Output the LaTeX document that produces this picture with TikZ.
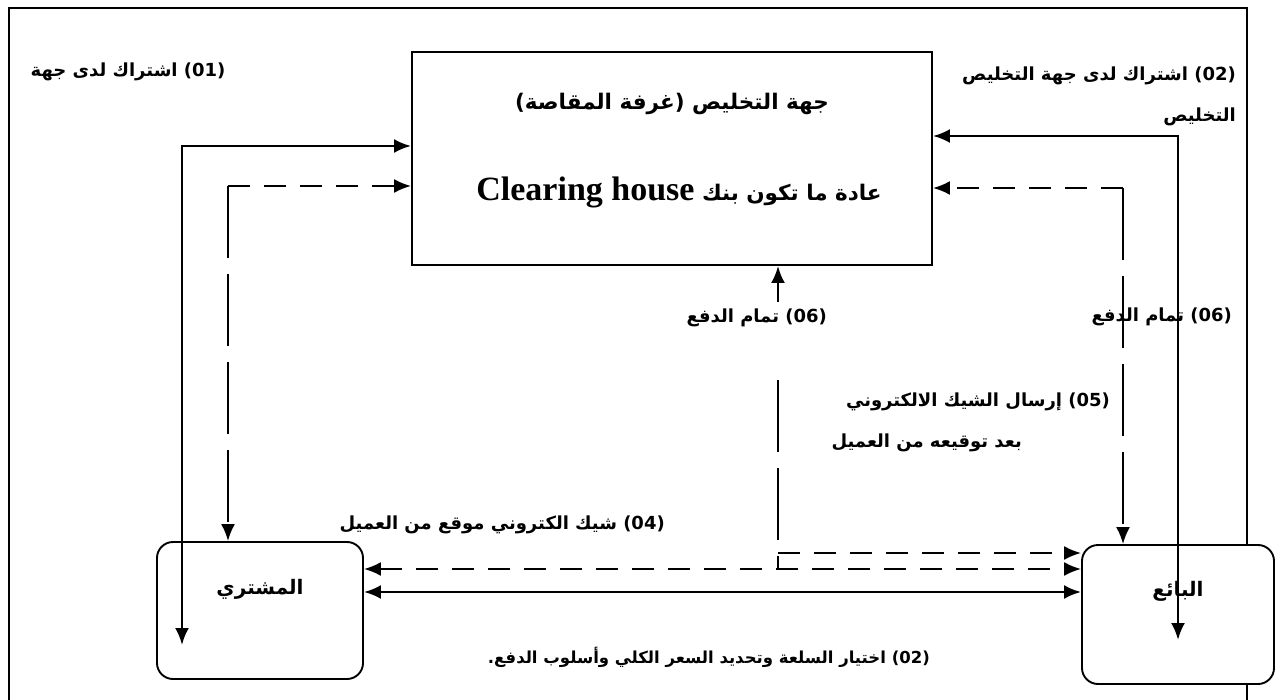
\documentclass[tikz,border=0pt]{standalone}
\usepackage{fontspec}
\setmainfont{Liberation Serif}
\newfontfamily\arab[Script=Arabic]{DejaVu Sans}
\TeXXeTstate=1
\usetikzlibrary{arrows.meta,calc}
\begin{document}
\begin{tikzpicture}[x=1pt,y=-1pt,
  >={Latex[length=17pt,width=14pt]},
  frameline/.style={line width=2.4pt},
  box/.style={draw,line width=1.9pt,fill=white,inner sep=0pt},
  rbox/.style={box,rounded corners=16pt},
  conn/.style={line width=2.6pt},
  sdash/.style={line width=2.1pt,dash pattern=on 22pt off 14pt},
  ldash/.style={line width=2.1pt,dash pattern=on 72pt off 16pt},
  lab/.style={inner sep=0pt,font=\arab\bfseries\fontsize{18}{21}\selectfont},
  actor/.style={inner sep=0pt,font=\arab\bfseries\fontsize{20}{24}\selectfont},
  title/.style={inner sep=0pt,font=\arab\bfseries\fontsize{21.5}{26}\selectfont}]
\useasboundingbox (0,0) rectangle (1276,700);
% outer frame
\draw[frameline] (9,700) -- (9,8) -- (1247,8) -- (1247,700);
% boxes
\node[box,minimum width=520pt,minimum height=213pt] (house) at (672,158.5) {};
\node[title] (housetitle) at (672,104) {\beginR جهة التخليص (غرفة المقاصة)\endR};
\node[title] (housesub) at (679,192) {\beginR عادة ما تكون بنك \beginL{\rmfamily\bfseries\fontsize{34}{38}\selectfont Clearing house}\endL\endR};
\node[rbox,minimum width=206pt,minimum height=137pt] (buyer) at (260,610.5) {};
\node[actor] (buyertext) at (260,589) {\beginR المشتري\endR};
\node[rbox,minimum width=192pt,minimum height=139pt] (seller) at (1178,614.5) {};
\node[actor] (sellertext) at (1178,591) {\beginR البائع\endR};
% labels
\node[lab] (l01) at (128,72) {\beginR\beginL(01)\endL{} اشتراك لدى جهة\endR};
\node[lab,align=right,anchor=base east] (l02) at (1236,122) {\beginR\beginL(02)\endL{} اشتراك لدى جهة التخليص\endR\\[20pt]\beginR التخليص\endR};
\node[lab,anchor=east] (l06a) at (827,318) {\beginR\beginL(06)\endL{} تمام الدفع\endR};
\node[lab,anchor=east] (l06b) at (1232,317) {\beginR\beginL(06)\endL{} تمام الدفع\endR};
\node[lab,anchor=east] (l05a) at (1110,402) {\beginR\beginL(05)\endL{} إرسال الشيك الالكتروني\endR};
\node[lab,anchor=east] (l05b) at (1022,443) {\beginR بعد توقيعه من العميل\endR};
\node[lab,anchor=east] (l04) at (665,525) {\beginR\beginL(04)\endL{} شيك الكتروني موقع من العميل\endR};
\node[lab,anchor=east,font=\arab\bfseries\fontsize{16.5}{20}\selectfont] (l02b) at (930,657) {\beginR\beginL(02)\endL{}  اختيار السلعة وتحديد السعر الكلي وأسلوب الدفع\beginL.\endL\endR};
% connector corners
\coordinate (cL1) at (182,146);
\coordinate (tL) at (182,645);
\coordinate (cL2) at (228,186);
\coordinate (cR1) at (1178,136);
\coordinate (tR) at (1178,640);
\coordinate (cR2) at (1123,188);
\coordinate (pay) at (778,302);
\coordinate (cM) at (778,380);
\coordinate (jM) at (778,569);
\coordinate (jM2) at (778,553);
\coordinate (jS) at (778,592);
% left side
\draw[conn,<->] (house.west |- cL1) -- (cL1) -- (tL);
\draw[sdash,->] (cL2) -- (house.west |- cL2);
\draw[ldash,->] (cL2) -- (cL2 |- buyer.north);
% right side
\draw[conn,<->] (house.east |- cR1) -- (cR1) -- (tR);
\draw[sdash,->] (cR2) -- (house.east |- cR2);
\draw[ldash,->] (cR2) -- (cR2 |- seller.north);
% payment arrow
\draw[conn,->] (pay) -- (pay |- house.south);
% (05) cheque to seller
\draw[ldash] (cM) -- (jM);
\draw[sdash,->] (jM2) -- (jM2 -| seller.west);
% between buyer and seller
\draw[sdash,<->] (buyer.east |- jM) -- (seller.west |- jM);
\draw[conn,<->] (buyer.east |- jS) -- (seller.west |- jS);
\end{tikzpicture}
\end{document}
